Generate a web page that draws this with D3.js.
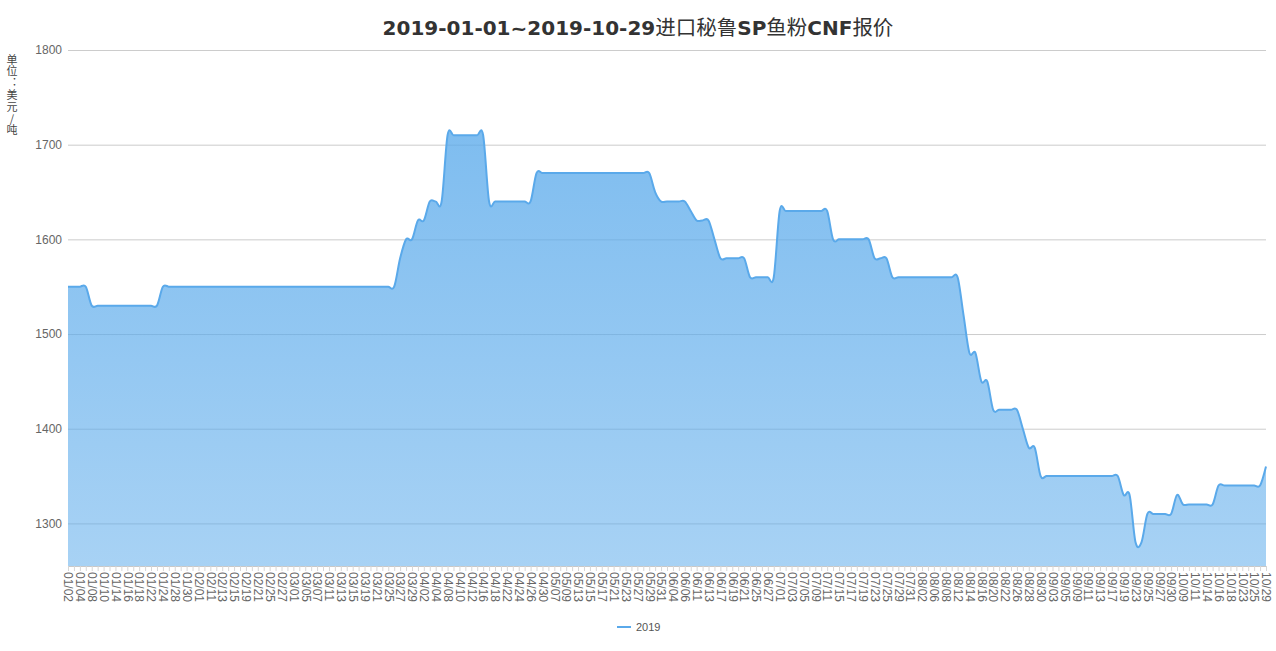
<!DOCTYPE html>
<html><head><meta charset="utf-8">
<script src="https://cdn.jsdelivr.net/npm/d3@7"></script>
<style>
body{margin:0;background:#fff;}
svg{display:block;font-family:"Liberation Sans",Arial,sans-serif;}
</style>
</head><body>
<svg id="chart" width="1276" height="651"></svg>
<script>
// ---------------- data ----------------
const categories = [
"01/02","01/03","01/04","01/07","01/08","01/09","01/10","01/11","01/14","01/15",
"01/16","01/17","01/18","01/21","01/22","01/23","01/24","01/25","01/28","01/29",
"01/30","01/31","02/01","02/02","02/11","02/12","02/13","02/14","02/15","02/18",
"02/19","02/20","02/21","02/22","02/25","02/26","02/27","02/28","03/01","03/04",
"03/05","03/06","03/07","03/08","03/11","03/12","03/13","03/14","03/15","03/18",
"03/19","03/20","03/21","03/22","03/25","03/26","03/27","03/28","03/29","04/01",
"04/02","04/03","04/04","04/05","04/08","04/09","04/10","04/11","04/12","04/15",
"04/16","04/17","04/18","04/19","04/22","04/23","04/24","04/25","04/26","04/29",
"04/30","05/06","05/07","05/08","05/09","05/10","05/13","05/14","05/15","05/16",
"05/17","05/20","05/21","05/22","05/23","05/24","05/27","05/28","05/29","05/30",
"05/31","06/03","06/04","06/05","06/06","06/10","06/11","06/12","06/13","06/14",
"06/17","06/18","06/19","06/20","06/21","06/24","06/25","06/26","06/27","06/28",
"07/01","07/02","07/03","07/04","07/05","07/08","07/09","07/10","07/11","07/12",
"07/15","07/16","07/17","07/18","07/19","07/22","07/23","07/24","07/25","07/26",
"07/29","07/30","07/31","08/01","08/02","08/05","08/06","08/07","08/08","08/09",
"08/12","08/13","08/14","08/15","08/16","08/19","08/20","08/21","08/22","08/23",
"08/26","08/27","08/28","08/29","08/30","09/02","09/03","09/04","09/05","09/06",
"09/09","09/10","09/11","09/12","09/13","09/16","09/17","09/18","09/19","09/20",
"09/23","09/24","09/25","09/26","09/27","09/29","09/30","10/08","10/09","10/10",
"10/11","10/12","10/14","10/15","10/16","10/17","10/18","10/22","10/23","10/24",
"10/25","10/28","10/29"
];

const values2019 = [
1550,1550,1550,1550,
1530,1530,1530,1530,1530,1530,1530,1530,1530,1530,1530,1530,
1550,1550,1550,1550,1550,1550,1550,1550,1550,1550,
1550,1550,1550,1550,1550,1550,1550,1550,1550,1550,
1550,1550,1550,1550,1550,1550,1550,1550,1550,1550,
1550,1550,1550,1550,1550,1550,1550,1550,1550,1550,
1580,
1600,1600,
1620,1620,
1640,1640,1640,
1710,1710,1710,1710,1710,1710,1710,
1640,1640,1640,1640,1640,1640,1640,1640,
1670,1670,1670,1670,1670,1670,1670,1670,1670,1670,
1670,1670,1670,1670,1670,1670,1670,1670,1670,1670,
1650,
1640,1640,1640,1640,1640,
1630,
1620,1620,1620,
1600,
1580,1580,1580,1580,1580,
1560,1560,1560,1560,1560,
1630,1630,1630,1630,1630,1630,1630,1630,1630,
1600,1600,1600,1600,1600,1600,1600,
1580,1580,1580,
1560,1560,1560,1560,1560,1560,1560,1560,1560,1560,1560,1560,
1520,
1480,1480,
1450,1450,
1420,1420,1420,1420,1420,
1400,
1380,1380,
1350,1350,1350,1350,1350,1350,1350,1350,1350,1350,1350,1350,1350,1350,
1330,1330,
1280,1280,
1310,1310,1310,1310,1310,
1330,
1320,1320,1320,1320,1320,1320,
1340,1340,1340,1340,1340,1340,1340,1340,
1360
];

const yTicks = [1300, 1400, 1500, 1600, 1700, 1800];
const yDomain = [1255, 1800];
const seriesName = "2019";
const yAxisName = "单位：美元/吨";
const titleParts = [
  {t:"2019-01-01~2019-10-29", latin:true},
  {t:"进口秘鲁", latin:false},
  {t:"SP", latin:true},
  {t:"鱼粉", latin:false},
  {t:"CNF", latin:true},
  {t:"报价", latin:false}
];

// ---------------- layout ----------------
const W = 1276, H = 651;
const plot = {left:68, right:1266, top:50, bottom:566};
const lineColor = "#5aa9ea";

const svg = d3.select("#chart");

const x = d3.scalePoint().domain(categories).range([plot.left, plot.right]);
const y = d3.scaleLinear().domain(yDomain).range([plot.bottom, plot.top]);

// gradient
const defs = svg.append("defs");
const grad = defs.append("linearGradient").attr("id","areaGrad")
  .attr("x1",0).attr("y1",0).attr("x2",0).attr("y2",1);
grad.append("stop").attr("offset","0%").attr("stop-color","#5aaaeb").attr("stop-opacity",0.78);
grad.append("stop").attr("offset","100%").attr("stop-color","#5aaaeb").attr("stop-opacity",0.53);

// y axis with grid
const yAxis = d3.axisLeft(y).tickValues(yTicks).tickFormat(d3.format("d"))
  .tickSize(-(plot.right-plot.left)).tickPadding(6);
const gy = svg.append("g").attr("transform",`translate(${plot.left},0)`).call(yAxis);
gy.select(".domain").remove();
gy.selectAll(".tick line").attr("stroke","#cccccc").attr("stroke-width",1);
gy.selectAll(".tick text").attr("fill","#666").style("font-size","12px")
  .style("font-family","'Liberation Sans',Arial,sans-serif");

const idx = d3.range(values2019.length);

// area
const area = d3.area()
  .x(i=>x(categories[i]))
  .y0(y(yDomain[0]))
  .y1(i=>y(values2019[i]))
  .curve(d3.curveCardinal.tension(0));
svg.append("path").datum(idx).attr("d", area).attr("fill","url(#areaGrad)").attr("stroke","none");

// x axis
const xAxis = d3.axisBottom(x).tickSize(5).tickSizeOuter(0).tickPadding(3)
  .tickFormat((d,i)=> i%2===0 ? d : "");
const gx = svg.append("g").attr("transform",`translate(0,${plot.bottom})`).call(xAxis);
gx.select(".domain").attr("stroke","#c8c8c8");
gx.selectAll(".tick line").attr("stroke","#d6d6d6");
gx.selectAll(".tick text")
  .attr("transform","rotate(90)")
  .attr("x",6).attr("y",0).attr("dy","0.35em")
  .style("text-anchor","start")
  .attr("fill","#666").style("font-size","12px")
  .style("font-family","'Liberation Sans',Arial,sans-serif");

// line
const line = d3.line()
  .x(i=>x(categories[i]))
  .y(i=>y(values2019[i]))
  .curve(d3.curveCardinal.tension(0));
svg.append("path").datum(idx).attr("d", line).attr("fill","none")
  .attr("stroke",lineColor).attr("stroke-width",2).attr("stroke-linejoin","round");

// title
const title = svg.append("text").attr("x", W/2).attr("y", 35)
  .attr("text-anchor","middle").attr("fill","#333");
titleParts.forEach(p=>{
  title.append("tspan").text(p.t)
    .style("font-family", p.latin ? "'DejaVu Sans',sans-serif" : "'Noto Sans CJK SC',sans-serif")
    .style("font-weight", p.latin ? "bold" : "normal")
    .style("font-size", p.latin ? "20px" : "20.5px");
});

// y axis name (vertical, upright characters)
svg.append("text").attr("x",12).attr("y",54)
  .style("writing-mode","vertical-rl")
  .style("text-orientation","upright")
  .style("letter-spacing","0.8px")
  .attr("fill","#444")
  .style("font-family","'Noto Sans CJK SC',sans-serif").style("font-size","11px")
  .text(yAxisName);

// legend
const lg = svg.append("g");
lg.append("line").attr("x1",617).attr("x2",631).attr("y1",627).attr("y2",627)
  .attr("stroke",lineColor).attr("stroke-width",2);
lg.append("text").attr("x",636).attr("y",627).attr("dy","0.35em").text(seriesName)
  .attr("fill","#555").style("font-size","11px");
</script>
</body></html>
